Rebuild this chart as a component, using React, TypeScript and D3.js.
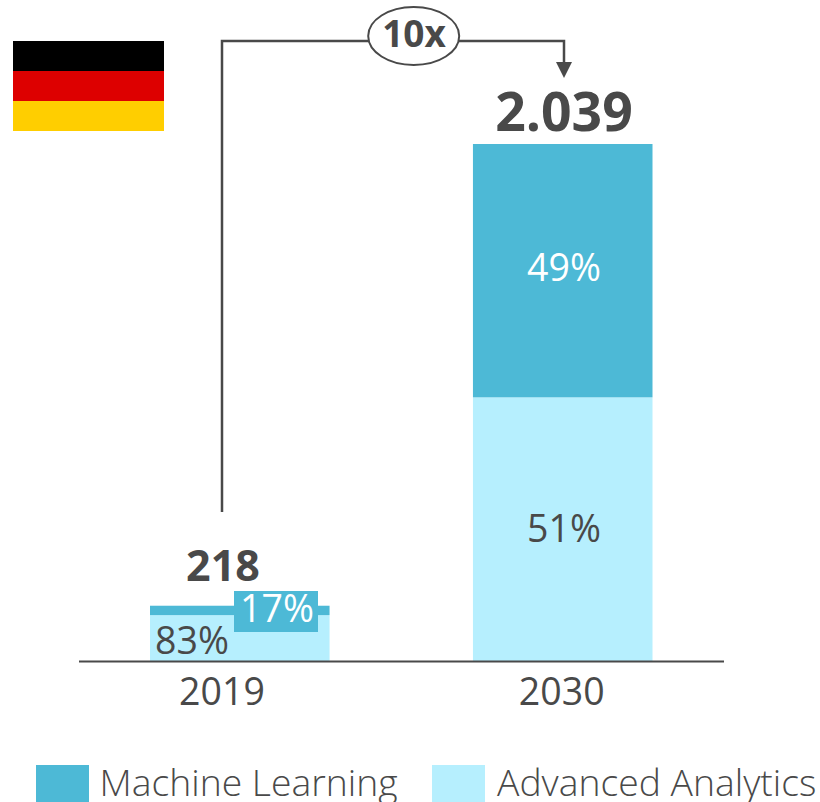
import React from "react";
import * as d3 from "d3";

const years = ["2019", "2030"];
const totals = [218, 2039];
const totalLabels = ["218", "2.039"];
const advancedShare = [83, 51];
const mlShare = [17, 49];
const legendItems = ["Machine Learning", "Advanced Analytics"];
const flagColors = ["#000000", "#DD0000", "#FFCE00"];

const ML = "#4DB9D6";
const AA = "#B6EFFE";
const INK = "#494949";
const FONT = "'Open Sans', sans-serif";

export default function App() {
  const x = d3.scaleBand<string>().domain(years).range([150, 652.5]).paddingInner(0.444).paddingOuter(0);
  const y = d3.scaleLinear().domain([0, 2039]).range([661, 144]);
  const bw = x.bandwidth();
  const cx = (yr: string) => (x(yr) as number) + bw / 2;

  const stacks = years.map((yr, i) => {
    const split = (totals[i] * advancedShare[i]) / 100;
    return { yr, total: totals[i], split };
  });
  // the 2019 labels and bracket sit left of the bar centre in the reference
  const c0 = 222;
  const c1 = cx(years[1]);
  const arrowX = 564;

  return (
    <svg width={820} height={802} style={{ position: "absolute", left: 0, top: 0, background: "#fff" }} fontFamily={FONT}>
      {flagColors.map((c, i) => (
        <rect key={c} x={13} y={41 + i * 30} width={151} height={30} fill={c} />
      ))}

      {stacks.map((s) => (
        <g key={s.yr}>
          <rect x={x(s.yr)} y={y(s.split)} width={bw} height={y(0) - y(s.split)} fill={AA} />
          <rect x={x(s.yr)} y={y(s.total)} width={bw} height={y(s.split) - y(s.total)} fill={ML} />
        </g>
      ))}

      <line x1={79} x2={724} y1={661.5} y2={661.5} stroke={INK} strokeWidth={2} />

      <rect x={234} y={591} width={84} height={41} fill={ML} />
      <text x={277} y={622} textAnchor="middle" fontSize={37.5} fill="#fff">{mlShare[0]}%</text>
      <text x={192} y={654} textAnchor="middle" fontSize={37.5} fill={INK}>{advancedShare[0]}%</text>

      <text x={564} y={281} textAnchor="middle" fontSize={37.5} fill="#fff">{mlShare[1]}%</text>
      <text x={564} y={542} textAnchor="middle" fontSize={37.5} fill={INK}>{advancedShare[1]}%</text>

      <text x={c0 + 1} y={581} textAnchor="middle" fontSize={43} fontWeight={700} fill={INK}>{totalLabels[0]}</text>
      <text x={564} y={131} textAnchor="middle" fontSize={53.5} fontWeight={700} fill={INK}>{totalLabels[1]}</text>

      <text x={c0} y={705} textAnchor="middle" fontSize={37.5} fill={INK}>{years[0]}</text>
      <text x={c1 - 1} y={705} textAnchor="middle" fontSize={37.5} fill={INK}>{years[1]}</text>

      <path d={`M${c0} 512V41H${arrowX}V64`} fill="none" stroke={INK} strokeWidth={2.5} />
      <path d={`M${arrowX - 8} 62H${arrowX + 8}L${arrowX} 78Z`} fill={INK} />
      <ellipse cx={413.7} cy={36} rx={45.5} ry={29} fill="#fff" stroke={INK} strokeWidth={2} />
      <text x={414} y={47} textAnchor="middle" fontSize={37} fontWeight={700} fill={INK}>10x</text>

      <rect x={36} y={765} width={53} height={37} fill={ML} />
      <text x={99.5} y={796} fontSize={37.3} fontWeight={300} fill={INK}>{legendItems[0]}</text>
      <rect x={432} y={765} width={53} height={37} fill={AA} />
      <text x={497} y={796} fontSize={37.3} fontWeight={300} fill={INK}>{legendItems[1]}</text>
    </svg>
  );
}
